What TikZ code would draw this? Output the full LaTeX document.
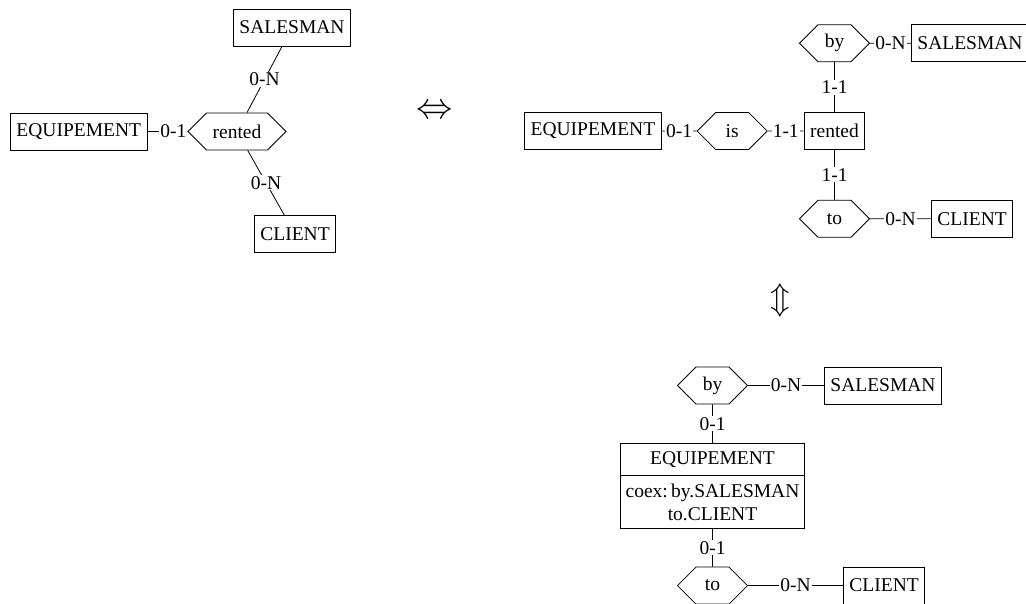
\documentclass[tikz,border=0pt]{standalone}
\usepackage{fontspec}
\usepackage{graphicx}
\setmainfont{Liberation Serif}
\usetikzlibrary{positioning}
\usetikzlibrary{shapes.symbols, shapes.multipart}
\tikzstyle{entity_box} = [
    rectangle,
    draw=black,
    inner xsep=6pt,
    minimum height=37pt
]
\tikzstyle{rel_hex} = [
    signal,
    signal to=west and east,
    signal pointer angle=90,
    draw=black,
    inner xsep=2pt,
    minimum width=70pt,
    minimum height=37pt
]
\tikzstyle{entity_split} = [
    rectangle split,
    rectangle split parts=2,
    draw=black,
    align=center,
    inner xsep=5pt,
    inner ysep=7.5pt
]
\tikzstyle{card} = [
    fill=white,
    inner sep=1pt
]

\begin{document}
\begin{tikzpicture}[
    x=1pt, y=-1pt,
    line width=0.8pt,
    font=\fontsize{19.5}{23}\selectfont
]
\useasboundingbox (0,0) rectangle (1026,603);

% left: ternary relationship
\node [rel_hex, minimum width=98pt] (rentL) at (237,131.5) {rented};
\node [entity_box, left=40pt of rentL] (eqL) {EQUIPEMENT};
\node [entity_box] (salL) at (292,27.5) {SALESMAN};
\node [entity_box] (cliL) at (295,234) {CLIENT};
\draw (eqL) -- node [card, pos=0.65] {0-1} (rentL);
\draw (rentL) -- node [card] {0-N} (salL);
\draw (rentL) -- node [card] {0-N} (cliL);

\node (eqvH) at (435,112) {\scalebox{1.75}{$\Leftrightarrow$}};

% top right: rented as an entity
\node [entity_box] (rentR) at (834.5,131) {rented};
\node [rel_hex, left=36pt of rentR] (isR) {is};
\node [entity_box, left=35pt of isR] (eqR) {EQUIPEMENT};
\node [rel_hex, above=50pt of rentR] (byR) {by};
\node [entity_box, right=41pt of byR] (salR) {SALESMAN};
\node [rel_hex, below=50pt of rentR] (toR) {to};
\node [entity_box, right=61pt of toR] (cliR) {CLIENT};
\draw (eqR) -- node [card] {0-1} (isR);
\draw (isR) -- node [card] {1-1} (rentR);
\draw (rentR) -- node [card] {1-1} (byR);
\draw (rentR) -- node [card] {1-1} (toR);
\draw (byR) -- node [card] {0-N} (salR);
\draw (toR) -- node [card] {0-N} (cliR);

\node (eqvV) at (780,300) {\scalebox{1.55}{$\Updownarrow$}};

% bottom right: coexistence constraint
\node [rel_hex] (byB) at (712.5,385.5) {by};
\node [entity_box, right=76pt of byB] (salB) {SALESMAN};
\node [entity_split, below=39pt of byB] (eqB)
    {EQUIPEMENT \nodepart{two} coex:\,by.SALESMAN\\to.CLIENT};
\node [rel_hex, below=38pt of eqB] (toB) {to};
\node [entity_box, right=95pt of toB] (cliB) {CLIENT};
\draw (byB) -- node [card] {0-1} (eqB);
\draw (eqB) -- node [card] {0-1} (toB);
\draw (byB) -- node [card] {0-N} (salB);
\draw (toB) -- node [card] {0-N} (cliB);
\end{tikzpicture}
\end{document}
